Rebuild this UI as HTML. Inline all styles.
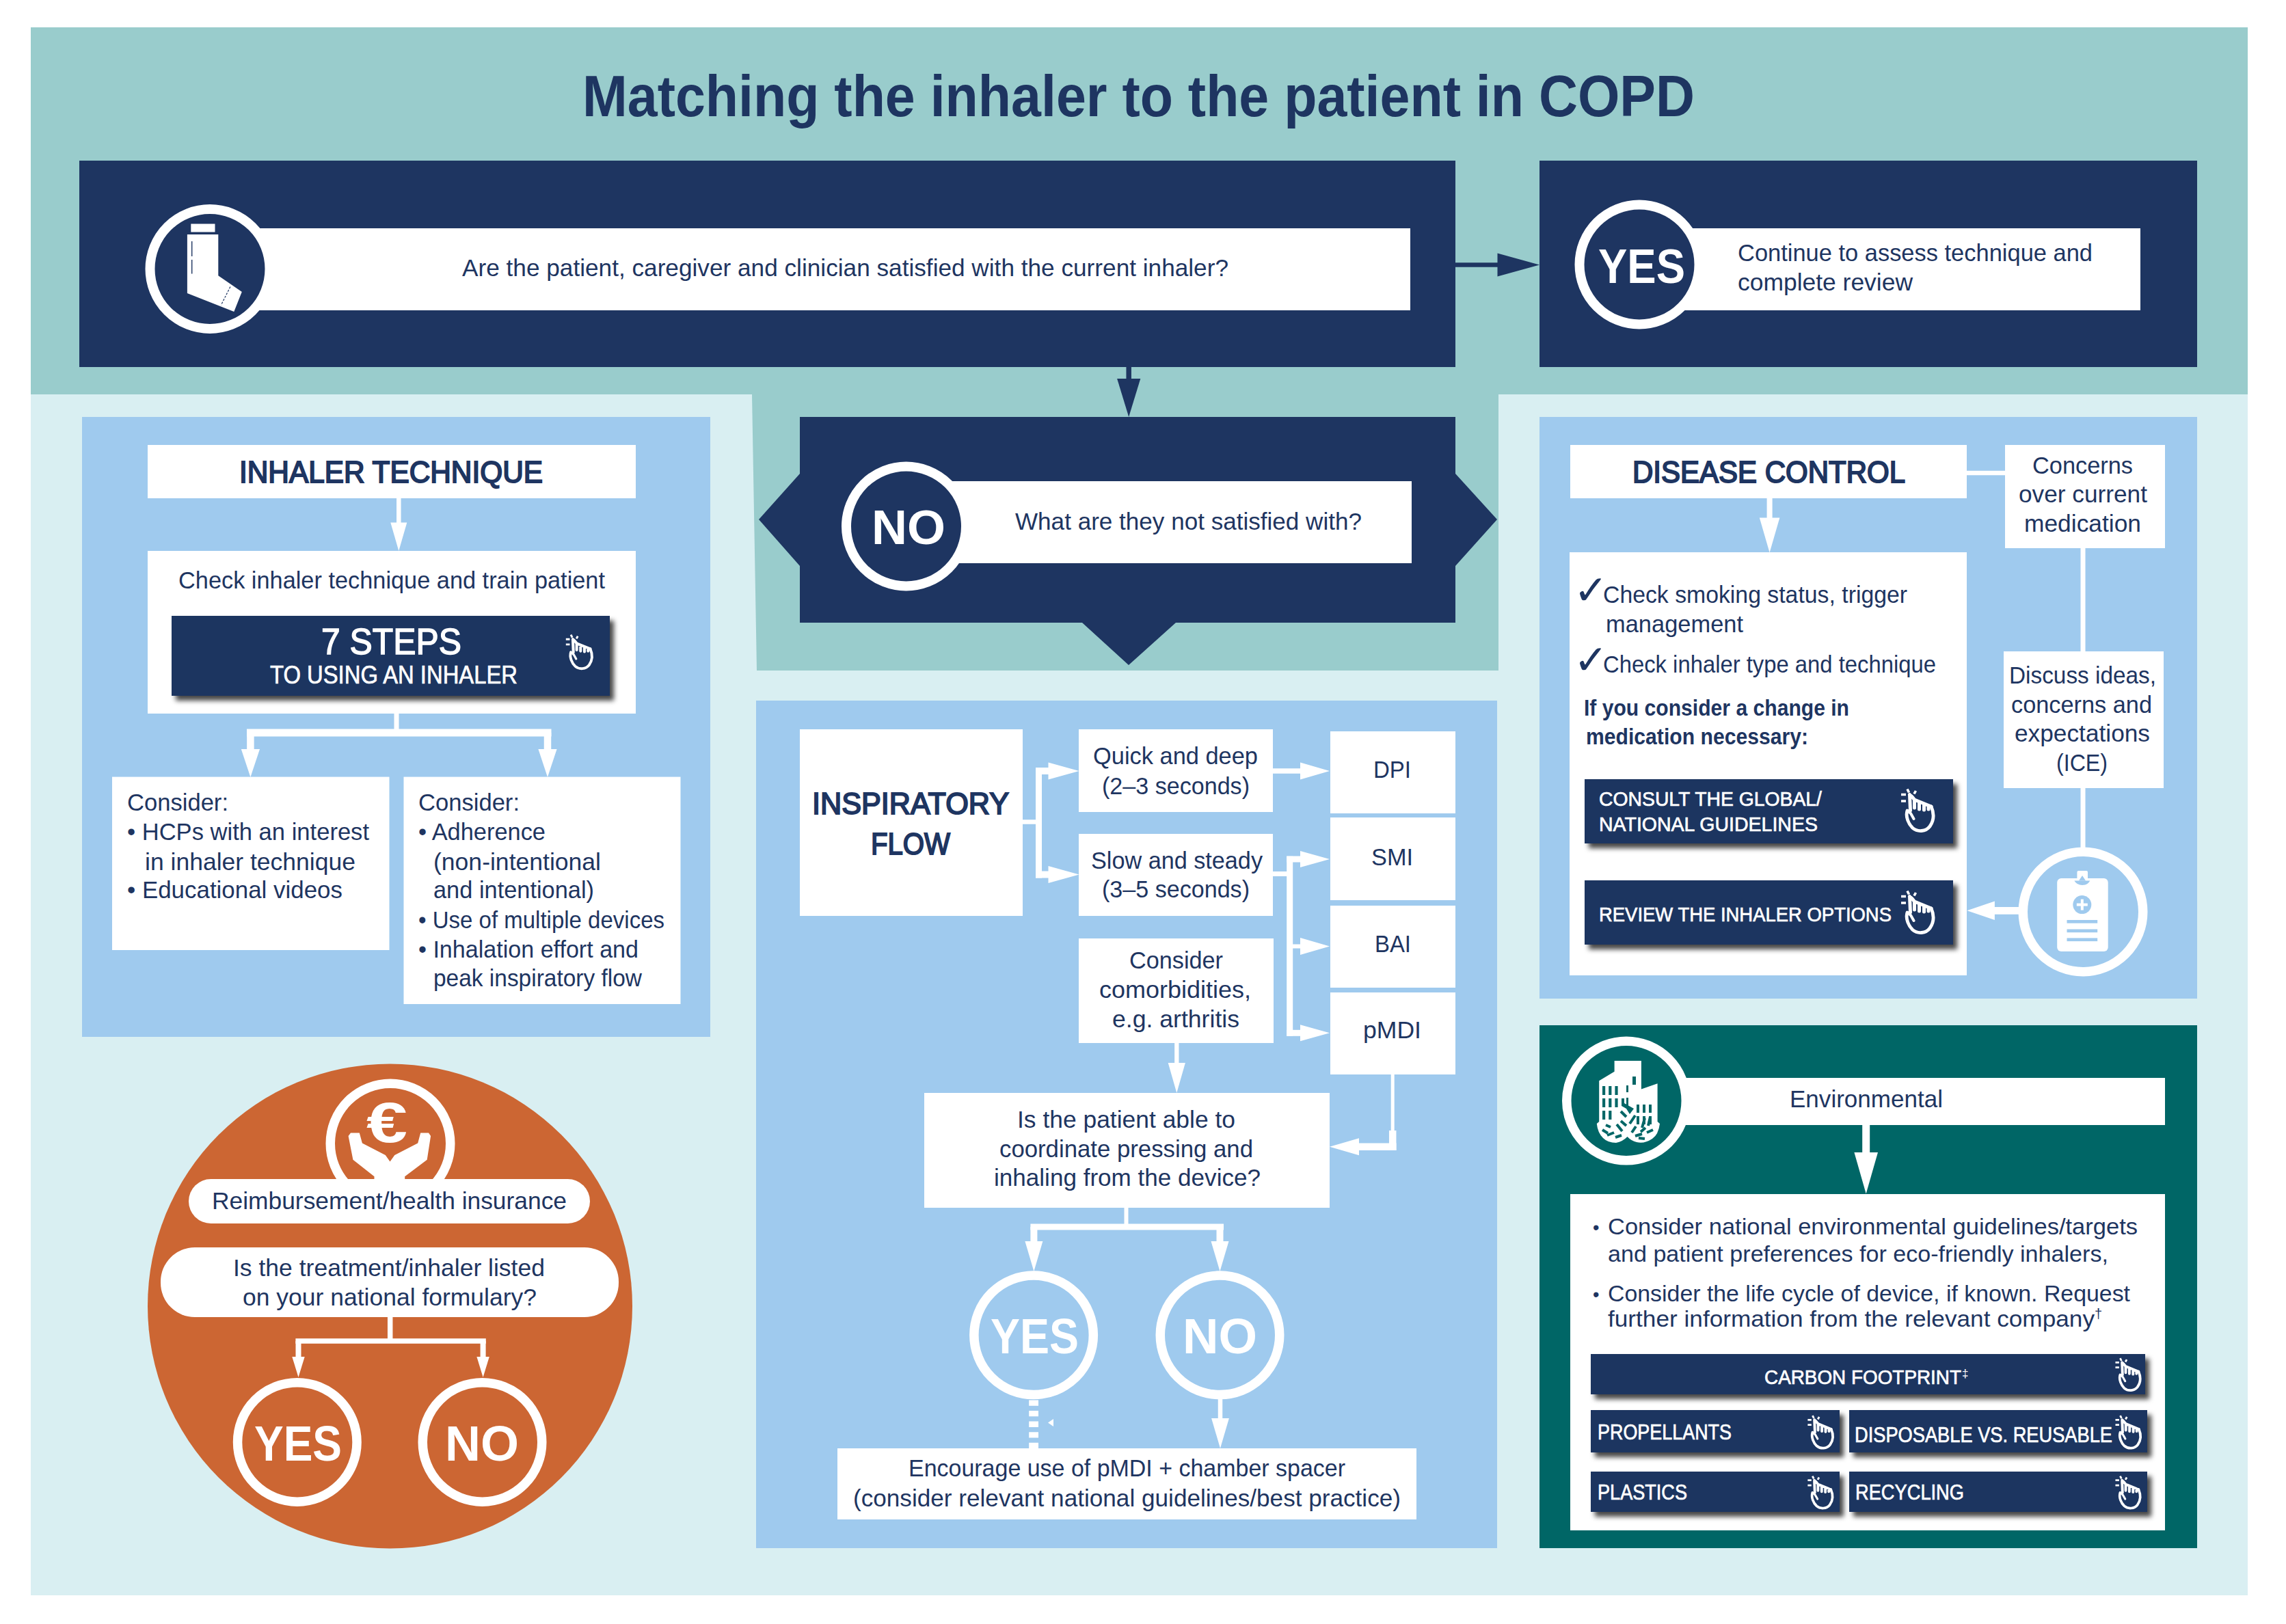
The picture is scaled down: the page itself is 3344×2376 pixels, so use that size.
<!DOCTYPE html>
<html lang="en">
<head>
<meta charset="utf-8">
<title>Matching the inhaler to the patient in COPD</title>
<style>
html,body{margin:0;padding:0;background:#fff;}
body{width:3344px;height:2376px;overflow:hidden;}
svg{display:block;}
svg text{font-family:"Liberation Sans",sans-serif;white-space:pre;}
</style>
</head>
<body>
<svg width="3344" height="2376" viewBox="0 0 3344 2376">
<defs>
<filter id="sh" x="-5%" y="-20%" width="112%" height="150%">
<feDropShadow dx="6" dy="7" stdDeviation="3.5" flood-color="#000" flood-opacity="0.72"/>
</filter>
</defs>
<rect x="0" y="0" width="3344" height="2376" fill="#ffffff"/>
<rect x="45" y="40" width="3243" height="2294" fill="#d9eff2"/>
<rect x="45" y="40" width="3243" height="537" fill="#99cccc"/>
<polygon points="1100,577 2192,577 2192,981 1107,981" fill="#99cccc"/>
<text x="852" y="170" font-size="85" fill="#1e3561" font-weight="bold" textLength="1627" lengthAdjust="spacingAndGlyphs">Matching the inhaler to the patient in COPD</text>
<rect x="116" y="235" width="2013" height="302" fill="#1e3561"/>
<rect x="307" y="334" width="1756" height="120" fill="#ffffff"/>
<circle cx="307" cy="393.5" r="87.5" fill="#1e3561" stroke="#ffffff" stroke-width="14"/>
<polygon points="279.3,327.4 314.5,327.4 314.5,339.6 279.3,339.6" fill="#ffffff"/>
<polygon points="273.9,343 319.3,343 319.3,403.3 353.8,427 342.3,456 273.9,429" fill="#ffffff"/>
<line x1="280.7" y1="353" x2="280.7" y2="400.5" stroke="#1e3561" stroke-width="1.4" stroke-dasharray="22 5"/>
<line x1="336.9" y1="419.5" x2="323.3" y2="446.6" stroke="#1e3561" stroke-width="1.2" stroke-dasharray="3 2"/>
<text x="676" y="404" font-size="35" fill="#1e3561" font-weight="normal" textLength="1121" lengthAdjust="spacingAndGlyphs">Are the patient, caregiver and clinician satisfied with the current inhaler?</text>
<line x1="2129" y1="387.5" x2="2192.5" y2="387.5" stroke="#1e3561" stroke-width="6.5" />
<polygon points="2190.5,370.5 2190.5,404.5 2252,387.5" fill="#1e3561"/>
<line x1="1651.2" y1="537" x2="1651.2" y2="556" stroke="#1e3561" stroke-width="7.5" />
<polygon points="1634.1000000000001,554 1668.3,554 1651.2,610" fill="#1e3561"/>
<rect x="2252" y="235" width="962" height="302" fill="#1e3561"/>
<rect x="2398" y="334" width="733" height="120" fill="#ffffff"/>
<circle cx="2398" cy="387" r="87.5" fill="#1e3561" stroke="#ffffff" stroke-width="14"/>
<text x="2338" y="413.5" font-size="71" fill="#ffffff" font-weight="bold" textLength="127" lengthAdjust="spacingAndGlyphs">YES</text>
<text x="2542" y="382" font-size="35" fill="#1e3561" font-weight="normal" textLength="519" lengthAdjust="spacingAndGlyphs">Continue to assess technique and</text>
<text x="2542" y="425" font-size="35" fill="#1e3561" font-weight="normal" textLength="256" lengthAdjust="spacingAndGlyphs">complete review</text>
<polygon points="1170,610 2129,610 2129,693 2190,760 2129,828 2129,911 1720,911 1651,973 1583,911 1170,911 1170,828 1110,760 1170,693" fill="#1e3561"/>
<rect x="1325" y="704" width="740" height="120" fill="#ffffff"/>
<circle cx="1325.5" cy="770" r="87.5" fill="#1e3561" stroke="#ffffff" stroke-width="14"/>
<text x="1275" y="796" font-size="71" fill="#ffffff" font-weight="bold" textLength="108" lengthAdjust="spacingAndGlyphs">NO</text>
<text x="1485" y="775" font-size="35" fill="#1e3561" font-weight="normal" textLength="507" lengthAdjust="spacingAndGlyphs">What are they not satisfied with?</text>
<rect x="120" y="610" width="919" height="907" fill="#9fcaee"/>
<rect x="216" y="651" width="714" height="78" fill="#ffffff"/>
<text x="350" y="706" font-size="44.5" fill="#1e3561" font-weight="normal" stroke="#1e3561" stroke-width="2.0" textLength="444" lengthAdjust="spacingAndGlyphs">INHALER TECHNIQUE</text>
<line x1="583.3" y1="729" x2="583.3" y2="766.5" stroke="#ffffff" stroke-width="6.5" />
<polygon points="571.3,764.5 595.3,764.5 583.3,806" fill="#ffffff"/>
<rect x="216" y="806" width="714" height="238" fill="#ffffff"/>
<text x="261" y="861" font-size="35" fill="#1e3561" font-weight="normal" textLength="624" lengthAdjust="spacingAndGlyphs">Check inhaler technique and train patient</text>
<rect x="251" y="901" width="641" height="117" fill="#1e3561" filter="url(#sh)"/>
<text x="470" y="957" font-size="54" fill="#ffffff" font-weight="normal" stroke="#ffffff" stroke-width="1.5" textLength="205" lengthAdjust="spacingAndGlyphs">7 STEPS</text>
<text x="395" y="1000" font-size="36" fill="#ffffff" font-weight="normal" stroke="#ffffff" stroke-width="0.7" textLength="362" lengthAdjust="spacingAndGlyphs">TO USING AN INHALER</text>
<g transform="translate(827,927.5) scale(0.81)" fill="none" stroke="#fff" stroke-width="4.8" stroke-linecap="round" stroke-linejoin="round">
<path d="M10 33 C7 42 12 53 18 58.5 C25 64.5 37 64 43 56 C50 46 49 36 45 27"/>
<path d="M10 33 L15 37 L19.5 45" stroke-width="4"/>
<path d="M14.5 33 L13.5 9.5 M13.5 9.5 Q17 12 20.5 17 L45 27 M20.5 29 L20.5 17 M27.5 31 L27.5 20 M34.5 32 L34.5 23 M41 31 L41 25.5" stroke-width="5"/>
<path d="M1 9.5 L8 9.5 M1 19 L8 19 M10 1.5 L12.5 6.5 M22.5 4 L20 8.5" stroke-width="3.6" stroke-linecap="butt"/>
</g>
<line x1="580" y1="1044" x2="580" y2="1075" stroke="#ffffff" stroke-width="7" />
<line x1="361" y1="1072" x2="806.5" y2="1072" stroke="#ffffff" stroke-width="11" />
<line x1="366.4" y1="1072" x2="366.4" y2="1098" stroke="#ffffff" stroke-width="10.5" />
<polygon points="352.79999999999995,1096 380.0,1096 366.4,1137" fill="#ffffff"/>
<line x1="801" y1="1072" x2="801" y2="1098" stroke="#ffffff" stroke-width="10.5" />
<polygon points="787.4,1096 814.6,1096 801,1137" fill="#ffffff"/>
<rect x="164" y="1136.6" width="405.5" height="253.4000000000001" fill="#ffffff"/>
<rect x="590.5" y="1136.6" width="405.0" height="332.4000000000001" fill="#ffffff"/>
<text x="186" y="1186" font-size="35" fill="#1e3561" font-weight="normal" textLength="148" lengthAdjust="spacingAndGlyphs">Consider:</text>
<text x="186" y="1229" font-size="35" fill="#1e3561" font-weight="normal" textLength="354" lengthAdjust="spacingAndGlyphs">• HCPs with an interest</text>
<text x="212" y="1273" font-size="35" fill="#1e3561" font-weight="normal" textLength="308" lengthAdjust="spacingAndGlyphs">in inhaler technique</text>
<text x="186" y="1314" font-size="35" fill="#1e3561" font-weight="normal" textLength="315" lengthAdjust="spacingAndGlyphs">• Educational videos</text>
<text x="612" y="1186" font-size="35" fill="#1e3561" font-weight="normal" textLength="148" lengthAdjust="spacingAndGlyphs">Consider:</text>
<text x="612" y="1229" font-size="35" fill="#1e3561" font-weight="normal" textLength="186" lengthAdjust="spacingAndGlyphs">• Adherence</text>
<text x="634" y="1273" font-size="35" fill="#1e3561" font-weight="normal" textLength="245" lengthAdjust="spacingAndGlyphs">(non-intentional</text>
<text x="634" y="1314" font-size="35" fill="#1e3561" font-weight="normal" textLength="235" lengthAdjust="spacingAndGlyphs">and intentional)</text>
<text x="612" y="1358" font-size="35" fill="#1e3561" font-weight="normal" textLength="360" lengthAdjust="spacingAndGlyphs">• Use of multiple devices</text>
<text x="612" y="1401" font-size="35" fill="#1e3561" font-weight="normal" textLength="322" lengthAdjust="spacingAndGlyphs">• Inhalation effort and</text>
<text x="634" y="1443" font-size="35" fill="#1e3561" font-weight="normal" textLength="305" lengthAdjust="spacingAndGlyphs">peak inspiratory flow</text>
<circle cx="570.5" cy="1911" r="354.5" fill="#cc6633"/>
<circle cx="571" cy="1673" r="87.75" fill="#cc6633" stroke="#ffffff" stroke-width="13.5"/>
<polygon points="509.6,1662 513,1657.5 525.8,1657.5 529.9,1672.4 563.8,1690 570.5,1699.5 577.3,1690 611.2,1672.4 615.2,1657.5 627,1657.5 630.1,1662 624.7,1696.8 592.2,1721.2 592.2,1728 547.5,1728 547.5,1721.2 516.4,1696.8" fill="#ffffff"/>
<text x="536" y="1671" font-size="84" fill="#ffffff" font-weight="bold" textLength="60" lengthAdjust="spacingAndGlyphs">€</text>
<rect x="276" y="1725" width="587" height="65" fill="#ffffff" rx="32.5"/>
<text x="310" y="1769" font-size="35" fill="#1e3561" font-weight="normal" textLength="519" lengthAdjust="spacingAndGlyphs">Reimbursement/health insurance</text>
<rect x="235" y="1825" width="670" height="102" fill="#ffffff" rx="50"/>
<text x="341" y="1867" font-size="35" fill="#1e3561" font-weight="normal" textLength="456" lengthAdjust="spacingAndGlyphs">Is the treatment/inhaler listed</text>
<text x="355" y="1910" font-size="35" fill="#1e3561" font-weight="normal" textLength="430" lengthAdjust="spacingAndGlyphs">on your national formulary?</text>
<line x1="570.7" y1="1927" x2="570.7" y2="1964" stroke="#ffffff" stroke-width="7.5" />
<line x1="432.4" y1="1962" x2="710.8" y2="1962" stroke="#ffffff" stroke-width="7.5" />
<line x1="436.5" y1="1962" x2="436.5" y2="1987" stroke="#ffffff" stroke-width="8" />
<polygon points="427.3,1985 445.7,1985 436.5,2015" fill="#ffffff"/>
<line x1="706.6" y1="1962" x2="706.6" y2="1987" stroke="#ffffff" stroke-width="8" />
<polygon points="697.4,1985 715.8000000000001,1985 706.6,2015" fill="#ffffff"/>
<circle cx="434.8" cy="2109.9" r="87.25" fill="#cc6633" stroke="#ffffff" stroke-width="13.5"/>
<circle cx="705.5" cy="2109.9" r="87.25" fill="#cc6633" stroke="#ffffff" stroke-width="13.5"/>
<text x="372" y="2136.5" font-size="72" fill="#ffffff" font-weight="bold" textLength="128" lengthAdjust="spacingAndGlyphs">YES</text>
<text x="651" y="2136.5" font-size="72" fill="#ffffff" font-weight="bold" textLength="108" lengthAdjust="spacingAndGlyphs">NO</text>
<rect x="1106" y="1025" width="1084" height="1240" fill="#9fcaee"/>
<rect x="1170" y="1067" width="326" height="273" fill="#ffffff"/>
<text x="1188" y="1191" font-size="44.5" fill="#1e3561" font-weight="normal" stroke="#1e3561" stroke-width="2.0" textLength="288" lengthAdjust="spacingAndGlyphs">INSPIRATORY</text>
<text x="1274" y="1250" font-size="44.5" fill="#1e3561" font-weight="normal" stroke="#1e3561" stroke-width="2.0" textLength="116" lengthAdjust="spacingAndGlyphs">FLOW</text>
<rect x="1578" y="1067" width="284" height="121" fill="#ffffff"/>
<rect x="1578" y="1220" width="284" height="120" fill="#ffffff"/>
<rect x="1578" y="1373" width="285" height="153" fill="#ffffff"/>
<rect x="1946" y="1070" width="183" height="120" fill="#ffffff"/>
<rect x="1946" y="1196" width="183" height="121" fill="#ffffff"/>
<rect x="1946" y="1325" width="183" height="120" fill="#ffffff"/>
<rect x="1946" y="1452" width="183" height="120" fill="#ffffff"/>
<text x="1599" y="1118" font-size="35" fill="#1e3561" font-weight="normal" textLength="241" lengthAdjust="spacingAndGlyphs">Quick and deep</text>
<text x="1612" y="1162" font-size="35" fill="#1e3561" font-weight="normal" textLength="216" lengthAdjust="spacingAndGlyphs">(2–3 seconds)</text>
<text x="1596" y="1271" font-size="35" fill="#1e3561" font-weight="normal" textLength="251" lengthAdjust="spacingAndGlyphs">Slow and steady</text>
<text x="1612" y="1313" font-size="35" fill="#1e3561" font-weight="normal" textLength="216" lengthAdjust="spacingAndGlyphs">(3–5 seconds)</text>
<text x="1652" y="1417" font-size="35" fill="#1e3561" font-weight="normal" textLength="137" lengthAdjust="spacingAndGlyphs">Consider</text>
<text x="1608" y="1460" font-size="35" fill="#1e3561" font-weight="normal" textLength="222" lengthAdjust="spacingAndGlyphs">comorbidities,</text>
<text x="1627" y="1503" font-size="35" fill="#1e3561" font-weight="normal" textLength="186" lengthAdjust="spacingAndGlyphs">e.g. arthritis</text>
<text x="2009" y="1138" font-size="35" fill="#1e3561" font-weight="normal" textLength="55" lengthAdjust="spacingAndGlyphs">DPI</text>
<text x="2006" y="1266" font-size="35" fill="#1e3561" font-weight="normal" textLength="61" lengthAdjust="spacingAndGlyphs">SMI</text>
<text x="2011" y="1393" font-size="35" fill="#1e3561" font-weight="normal" textLength="53" lengthAdjust="spacingAndGlyphs">BAI</text>
<text x="1994" y="1519" font-size="35" fill="#1e3561" font-weight="normal" textLength="85" lengthAdjust="spacingAndGlyphs">pMDI</text>
<line x1="1495" y1="1202.5" x2="1520" y2="1202.5" stroke="#ffffff" stroke-width="6.5" />
<line x1="1519.5" y1="1123" x2="1519.5" y2="1284.5" stroke="#ffffff" stroke-width="9" />
<line x1="1515" y1="1128" x2="1535.5" y2="1128" stroke="#ffffff" stroke-width="10" />
<polygon points="1533.5,1115.5 1533.5,1140.5 1578.5,1128" fill="#ffffff"/>
<line x1="1515" y1="1279.5" x2="1535.5" y2="1279.5" stroke="#ffffff" stroke-width="10" />
<polygon points="1533.5,1267.0 1533.5,1292.0 1578.5,1279.5" fill="#ffffff"/>
<line x1="1862" y1="1128" x2="1904" y2="1128" stroke="#ffffff" stroke-width="7.5" />
<polygon points="1902,1115.5 1902,1140.5 1945,1128" fill="#ffffff"/>
<line x1="1862" y1="1278.5" x2="1887" y2="1278.5" stroke="#ffffff" stroke-width="7" />
<line x1="1886.7" y1="1252.8" x2="1886.7" y2="1515.7" stroke="#ffffff" stroke-width="9" />
<line x1="1882.2" y1="1257" x2="1904" y2="1257" stroke="#ffffff" stroke-width="9" />
<polygon points="1902,1245 1902,1269 1945,1257" fill="#ffffff"/>
<line x1="1886" y1="1384.5" x2="1904" y2="1384.5" stroke="#ffffff" stroke-width="6" />
<polygon points="1902,1372.0 1902,1397.0 1945,1384.5" fill="#ffffff"/>
<line x1="1882.2" y1="1511.3" x2="1904" y2="1511.3" stroke="#ffffff" stroke-width="9" />
<polygon points="1902,1499.3 1902,1523.3 1945,1511.3" fill="#ffffff"/>
<line x1="1721.3" y1="1526" x2="1721.3" y2="1557" stroke="#ffffff" stroke-width="6.3" />
<polygon points="1708.7,1555 1733.8999999999999,1555 1721.3,1599" fill="#ffffff"/>
<line x1="2037.2" y1="1572" x2="2037.2" y2="1658" stroke="#ffffff" stroke-width="5" />
<line x1="2037.2" y1="1654" x2="2037.2" y2="1683" stroke="#ffffff" stroke-width="10.5" />
<line x1="2042.5" y1="1677.8" x2="1986" y2="1677.8" stroke="#ffffff" stroke-width="10.5" />
<polygon points="1988,1665.3 1988,1690.3 1945,1677.8" fill="#ffffff"/>
<rect x="1352" y="1599" width="593" height="168" fill="#ffffff"/>
<text x="1488" y="1650" font-size="35" fill="#1e3561" font-weight="normal" textLength="319" lengthAdjust="spacingAndGlyphs">Is the patient able to</text>
<text x="1462" y="1693" font-size="35" fill="#1e3561" font-weight="normal" textLength="371" lengthAdjust="spacingAndGlyphs">coordinate pressing and</text>
<text x="1454" y="1735" font-size="35" fill="#1e3561" font-weight="normal" textLength="390" lengthAdjust="spacingAndGlyphs">inhaling from the device?</text>
<line x1="1647.5" y1="1767" x2="1647.5" y2="1798" stroke="#ffffff" stroke-width="6" />
<line x1="1507.4" y1="1795" x2="1790" y2="1795" stroke="#ffffff" stroke-width="9" />
<line x1="1512.4" y1="1795" x2="1512.4" y2="1818" stroke="#ffffff" stroke-width="10" />
<polygon points="1499.4,1816 1525.4,1816 1512.4,1860" fill="#ffffff"/>
<line x1="1784.5" y1="1795" x2="1784.5" y2="1818" stroke="#ffffff" stroke-width="10" />
<polygon points="1771.5,1816 1797.5,1816 1784.5,1860" fill="#ffffff"/>
<circle cx="1512.1" cy="1953.3" r="87.25" fill="#9fcaee" stroke="#ffffff" stroke-width="13.5"/>
<circle cx="1784.5" cy="1953.3" r="87.25" fill="#9fcaee" stroke="#ffffff" stroke-width="13.5"/>
<text x="1449" y="1980" font-size="73" fill="#ffffff" font-weight="bold" textLength="129" lengthAdjust="spacingAndGlyphs">YES</text>
<text x="1730" y="1980" font-size="73" fill="#ffffff" font-weight="bold" textLength="109" lengthAdjust="spacingAndGlyphs">NO</text>
<line x1="1512.1" y1="2048.4" x2="1512.1" y2="2119" stroke="#ffffff" stroke-width="13.8" stroke-dasharray="8.3 7.3"/>
<polygon points="1533,2081.5 1541,2076 1541,2087" fill="#ffffff"/>
<line x1="1785" y1="2047" x2="1785" y2="2077" stroke="#ffffff" stroke-width="6.5" />
<polygon points="1772.1,2075 1797.9,2075 1785,2119" fill="#ffffff"/>
<rect x="1225" y="2119" width="847" height="104" fill="#ffffff"/>
<text x="1329" y="2160" font-size="35" fill="#1e3561" font-weight="normal" textLength="639" lengthAdjust="spacingAndGlyphs">Encourage use of pMDI + chamber spacer</text>
<text x="1248" y="2204" font-size="35" fill="#1e3561" font-weight="normal" textLength="801" lengthAdjust="spacingAndGlyphs">(consider relevant national guidelines/best practice)</text>
<rect x="2252" y="610" width="962" height="851" fill="#9fcaee"/>
<rect x="2297" y="651" width="580" height="78" fill="#ffffff"/>
<text x="2388" y="706" font-size="44.5" fill="#1e3561" font-weight="normal" stroke="#1e3561" stroke-width="2.0" textLength="399" lengthAdjust="spacingAndGlyphs">DISEASE CONTROL</text>
<line x1="2877" y1="692" x2="2934" y2="692" stroke="#ffffff" stroke-width="6.5" />
<rect x="2933" y="651" width="234" height="151" fill="#ffffff"/>
<text x="2973" y="693" font-size="35" fill="#1e3561" font-weight="normal" textLength="147" lengthAdjust="spacingAndGlyphs">Concerns</text>
<text x="2953" y="735" font-size="35" fill="#1e3561" font-weight="normal" textLength="188" lengthAdjust="spacingAndGlyphs">over current</text>
<text x="2961" y="778" font-size="35" fill="#1e3561" font-weight="normal" textLength="171" lengthAdjust="spacingAndGlyphs">medication</text>
<line x1="2588.6" y1="729" x2="2588.6" y2="759.4" stroke="#ffffff" stroke-width="8" />
<polygon points="2573.7999999999997,757.4 2603.4,757.4 2588.6,808.4" fill="#ffffff"/>
<rect x="2296" y="808" width="581" height="619" fill="#ffffff"/>
<line x1="3047" y1="802" x2="3047" y2="953" stroke="#ffffff" stroke-width="7" />
<rect x="2931" y="953" width="234" height="200" fill="#ffffff"/>
<line x1="3047" y1="1153" x2="3047" y2="1242" stroke="#ffffff" stroke-width="7" />
<text x="2939" y="1000" font-size="35" fill="#1e3561" font-weight="normal" textLength="215" lengthAdjust="spacingAndGlyphs">Discuss ideas,</text>
<text x="2942" y="1043" font-size="35" fill="#1e3561" font-weight="normal" textLength="206" lengthAdjust="spacingAndGlyphs">concerns and</text>
<text x="2947" y="1085" font-size="35" fill="#1e3561" font-weight="normal" textLength="198" lengthAdjust="spacingAndGlyphs">expectations</text>
<text x="3008" y="1128" font-size="35" fill="#1e3561" font-weight="normal" textLength="75" lengthAdjust="spacingAndGlyphs">(ICE)</text>
<circle cx="3047" cy="1334" r="87.75" fill="#9fcaee" stroke="#ffffff" stroke-width="13.5"/>
<rect x="3038.4" y="1274" width="15.599999999999909" height="16" fill="#ffffff" rx="2"/>
<rect x="3009.2" y="1285" width="74.5" height="107" fill="#ffffff" rx="6"/>
<path d="M3034.3 1288.5 L3057.3 1288.5 Q3054 1295 3046 1295 Q3038 1295 3034.3 1288.5 Z" fill="#9fcaee"/>
<path d="M3041 1288.5 L3046 1281 L3051 1288.5 Z" fill="#9fcaee"/>
<circle cx="3045.8" cy="1323.6" r="13.5" fill="#9fcaee"/>
<rect x="3043.8" y="1315.6" width="4.0" height="16.0" fill="#ffffff"/>
<rect x="3037.8" y="1321.6" width="16.0" height="4.0" fill="#ffffff"/>
<rect x="3023.5" y="1346" width="44.69999999999982" height="4.7000000000000455" fill="#9fcaee"/>
<rect x="3023.5" y="1359.5" width="44.69999999999982" height="4.7000000000000455" fill="#9fcaee"/>
<rect x="3023.5" y="1372.4" width="44.69999999999982" height="4.699999999999818" fill="#9fcaee"/>
<line x1="2956" y1="1332.3" x2="2915.9" y2="1332.3" stroke="#ffffff" stroke-width="10.8" />
<polygon points="2917.9,1318.6 2917.9,1346.0 2877.4,1332.3" fill="#ffffff"/>
<text x="2301.5" y="884" font-size="60" fill="#1e3561" font-weight="normal" font-family="DejaVu Sans">✓</text>
<text x="2345" y="882" font-size="35" fill="#1e3561" font-weight="normal" textLength="445" lengthAdjust="spacingAndGlyphs">Check smoking status, trigger</text>
<text x="2349" y="925" font-size="35" fill="#1e3561" font-weight="normal" textLength="201" lengthAdjust="spacingAndGlyphs">management</text>
<text x="2301.5" y="986" font-size="60" fill="#1e3561" font-weight="normal" font-family="DejaVu Sans">✓</text>
<text x="2345" y="984" font-size="35" fill="#1e3561" font-weight="normal" textLength="487" lengthAdjust="spacingAndGlyphs">Check inhaler type and technique</text>
<text x="2317" y="1047" font-size="33.5" fill="#1e3561" font-weight="bold" textLength="388" lengthAdjust="spacingAndGlyphs">If you consider a change in</text>
<text x="2320" y="1089" font-size="33.5" fill="#1e3561" font-weight="bold" textLength="325" lengthAdjust="spacingAndGlyphs">medication necessary:</text>
<rect x="2318" y="1140" width="539" height="94" fill="#1e3561" filter="url(#sh)"/>
<text x="2339" y="1179" font-size="30" fill="#ffffff" font-weight="normal" stroke="#ffffff" stroke-width="0.7" textLength="326" lengthAdjust="spacingAndGlyphs">CONSULT THE GLOBAL/</text>
<text x="2339" y="1216" font-size="30" fill="#ffffff" font-weight="normal" stroke="#ffffff" stroke-width="0.7" textLength="320" lengthAdjust="spacingAndGlyphs">NATIONAL GUIDELINES</text>
<g transform="translate(2780,1153) scale(1.0)" fill="none" stroke="#fff" stroke-width="4.8" stroke-linecap="round" stroke-linejoin="round">
<path d="M10 33 C7 42 12 53 18 58.5 C25 64.5 37 64 43 56 C50 46 49 36 45 27"/>
<path d="M10 33 L15 37 L19.5 45" stroke-width="4"/>
<path d="M14.5 33 L13.5 9.5 M13.5 9.5 Q17 12 20.5 17 L45 27 M20.5 29 L20.5 17 M27.5 31 L27.5 20 M34.5 32 L34.5 23 M41 31 L41 25.5" stroke-width="5"/>
<path d="M1 9.5 L8 9.5 M1 19 L8 19 M10 1.5 L12.5 6.5 M22.5 4 L20 8.5" stroke-width="3.6" stroke-linecap="butt"/>
</g>
<rect x="2318" y="1288" width="539" height="94" fill="#1e3561" filter="url(#sh)"/>
<text x="2339" y="1348" font-size="30" fill="#ffffff" font-weight="normal" stroke="#ffffff" stroke-width="0.7" textLength="428" lengthAdjust="spacingAndGlyphs">REVIEW THE INHALER OPTIONS</text>
<g transform="translate(2780,1302) scale(1.0)" fill="none" stroke="#fff" stroke-width="4.8" stroke-linecap="round" stroke-linejoin="round">
<path d="M10 33 C7 42 12 53 18 58.5 C25 64.5 37 64 43 56 C50 46 49 36 45 27"/>
<path d="M10 33 L15 37 L19.5 45" stroke-width="4"/>
<path d="M14.5 33 L13.5 9.5 M13.5 9.5 Q17 12 20.5 17 L45 27 M20.5 29 L20.5 17 M27.5 31 L27.5 20 M34.5 32 L34.5 23 M41 31 L41 25.5" stroke-width="5"/>
<path d="M1 9.5 L8 9.5 M1 19 L8 19 M10 1.5 L12.5 6.5 M22.5 4 L20 8.5" stroke-width="3.6" stroke-linecap="butt"/>
</g>
<rect x="2252" y="1500" width="962" height="765" fill="#006666"/>
<rect x="2379" y="1577" width="788" height="69" fill="#ffffff"/>
<circle cx="2379" cy="1610.5" r="87.25" fill="#006666" stroke="#ffffff" stroke-width="13.5"/>
<g>
<path d="M2339.2 1581.3 L2361.6 1567.7 L2361.6 1552.1 L2400.9 1552.1 L2400.9 1593.5 L2424.6 1585.3 L2424.6 1641 L2428 1644 Q2426 1660 2417 1666 Q2405 1674 2394 1671 Q2386 1669 2380.5 1663 Q2374 1670 2364 1672 Q2352 1672 2345 1665 Q2337 1657 2335.8 1644 L2339.2 1641 Z" fill="#fff"/>
<rect x="2344.0" y="1589.0" width="4.2" height="13" fill="#006666"/>
<rect x="2353.2" y="1589.0" width="4.2" height="13" fill="#006666"/>
<rect x="2362.4" y="1589.0" width="4.2" height="13" fill="#006666"/>
<rect x="2344.0" y="1607.0" width="4.2" height="13" fill="#006666"/>
<rect x="2353.2" y="1607.0" width="4.2" height="13" fill="#006666"/>
<rect x="2362.4" y="1607.0" width="4.2" height="13" fill="#006666"/>
<rect x="2344.0" y="1625.0" width="4.2" height="13" fill="#006666"/>
<rect x="2353.2" y="1625.0" width="4.2" height="13" fill="#006666"/>
<rect x="2394.0" y="1616.0" width="4" height="12" fill="#006666"/>
<rect x="2403.0" y="1616.0" width="4" height="12" fill="#006666"/>
<rect x="2412.0" y="1616.0" width="4" height="12" fill="#006666"/>
<rect x="2394.0" y="1633.0" width="4" height="12" fill="#006666"/>
<rect x="2403.0" y="1633.0" width="4" height="12" fill="#006666"/>
<rect x="2412.0" y="1633.0" width="4" height="12" fill="#006666"/>
<rect x="2388" y="1575" width="5" height="12" fill="#006666"/>
<rect x="2379" y="1588" width="3" height="10" fill="#006666"/>
<rect x="2379" y="1606" width="3" height="12" fill="#006666"/>
<polygon points="2372,1607 2376,1607 2376,1614 2390,1622 2384,1630 2379,1622 2372,1618" fill="#006666"/>
<line x1="2371" y1="1626" x2="2379" y2="1634" stroke="#006666" stroke-width="4" stroke-linecap="butt"/>
<line x1="2371" y1="1640" x2="2379" y2="1647" stroke="#006666" stroke-width="4" stroke-linecap="butt"/>
<line x1="2392" y1="1632" x2="2384" y2="1644" stroke="#006666" stroke-width="4" stroke-linecap="butt"/>
<line x1="2365" y1="1645" x2="2373" y2="1655" stroke="#006666" stroke-width="4" stroke-linecap="butt"/>
<line x1="2393" y1="1648" x2="2387" y2="1657" stroke="#006666" stroke-width="4" stroke-linecap="butt"/>
<line x1="2349" y1="1646" x2="2356" y2="1649" stroke="#006666" stroke-width="4" stroke-linecap="butt"/>
<line x1="2344" y1="1653" x2="2352" y2="1658" stroke="#006666" stroke-width="4" stroke-linecap="butt"/>
<line x1="2351" y1="1661" x2="2361" y2="1657" stroke="#006666" stroke-width="4" stroke-linecap="butt"/>
<line x1="2363" y1="1664" x2="2372" y2="1661" stroke="#006666" stroke-width="4" stroke-linecap="butt"/>
<line x1="2402" y1="1650" x2="2406" y2="1636" stroke="#006666" stroke-width="4" stroke-linecap="butt"/>
<line x1="2411" y1="1647" x2="2414" y2="1634" stroke="#006666" stroke-width="4" stroke-linecap="butt"/>
<line x1="2400" y1="1656" x2="2407" y2="1650" stroke="#006666" stroke-width="4" stroke-linecap="butt"/>
<line x1="2409" y1="1657" x2="2418" y2="1653" stroke="#006666" stroke-width="4" stroke-linecap="butt"/>
<line x1="2392" y1="1662" x2="2402" y2="1659" stroke="#006666" stroke-width="4" stroke-linecap="butt"/>
<line x1="2397" y1="1665" x2="2406" y2="1666" stroke="#006666" stroke-width="4" stroke-linecap="butt"/>
</g>
<text x="2618" y="1620" font-size="35" fill="#1e3561" font-weight="normal" textLength="224" lengthAdjust="spacingAndGlyphs">Environmental</text>
<line x1="2729.7" y1="1646" x2="2729.7" y2="1688.0" stroke="#ffffff" stroke-width="11" />
<polygon points="2712.3999999999996,1686.0 2747.0,1686.0 2729.7,1746.5" fill="#ffffff"/>
<rect x="2297" y="1747" width="870" height="492" fill="#ffffff"/>
<text x="2330" y="1805" font-size="27" fill="#1e3561" font-weight="normal">•</text>
<text x="2352" y="1806" font-size="34" fill="#1e3561" font-weight="normal" textLength="775" lengthAdjust="spacingAndGlyphs">Consider national environmental guidelines/targets</text>
<text x="2352" y="1846" font-size="34" fill="#1e3561" font-weight="normal" textLength="732" lengthAdjust="spacingAndGlyphs">and patient preferences for eco-friendly inhalers,</text>
<text x="2330" y="1903" font-size="27" fill="#1e3561" font-weight="normal">•</text>
<text x="2352" y="1904" font-size="34" fill="#1e3561" font-weight="normal" textLength="764" lengthAdjust="spacingAndGlyphs">Consider the life cycle of device, if known. Request</text>
<text x="2352" y="1941" font-size="34" fill="#1e3561" font-weight="normal" textLength="712" lengthAdjust="spacingAndGlyphs">further information from the relevant company</text>
<text x="3064" y="1929" font-size="20" fill="#1e3561" font-weight="normal">†</text>
<rect x="2327" y="1981" width="811" height="59" fill="#1e3561" filter="url(#sh)"/>
<text x="2581" y="2025" font-size="29" fill="#ffffff" font-weight="normal" stroke="#ffffff" stroke-width="0.7" textLength="288" lengthAdjust="spacingAndGlyphs">CARBON FOOTPRINT</text>
<text x="2870" y="2015" font-size="17" fill="#ffffff" font-weight="normal">‡</text>
<g transform="translate(3093.7,1986) scale(0.77)" fill="none" stroke="#fff" stroke-width="4.8" stroke-linecap="round" stroke-linejoin="round">
<path d="M10 33 C7 42 12 53 18 58.5 C25 64.5 37 64 43 56 C50 46 49 36 45 27"/>
<path d="M10 33 L15 37 L19.5 45" stroke-width="4"/>
<path d="M14.5 33 L13.5 9.5 M13.5 9.5 Q17 12 20.5 17 L45 27 M20.5 29 L20.5 17 M27.5 31 L27.5 20 M34.5 32 L34.5 23 M41 31 L41 25.5" stroke-width="5"/>
<path d="M1 9.5 L8 9.5 M1 19 L8 19 M10 1.5 L12.5 6.5 M22.5 4 L20 8.5" stroke-width="3.6" stroke-linecap="butt"/>
</g>
<rect x="2327" y="2063" width="364" height="62" fill="#1e3561" filter="url(#sh)"/>
<text x="2337" y="2106" font-size="31" fill="#ffffff" font-weight="normal" stroke="#ffffff" stroke-width="0.7" textLength="196" lengthAdjust="spacingAndGlyphs">PROPELLANTS</text>
<g transform="translate(2643.6,2069.9) scale(0.78)" fill="none" stroke="#fff" stroke-width="4.8" stroke-linecap="round" stroke-linejoin="round">
<path d="M10 33 C7 42 12 53 18 58.5 C25 64.5 37 64 43 56 C50 46 49 36 45 27"/>
<path d="M10 33 L15 37 L19.5 45" stroke-width="4"/>
<path d="M14.5 33 L13.5 9.5 M13.5 9.5 Q17 12 20.5 17 L45 27 M20.5 29 L20.5 17 M27.5 31 L27.5 20 M34.5 32 L34.5 23 M41 31 L41 25.5" stroke-width="5"/>
<path d="M1 9.5 L8 9.5 M1 19 L8 19 M10 1.5 L12.5 6.5 M22.5 4 L20 8.5" stroke-width="3.6" stroke-linecap="butt"/>
</g>
<rect x="2705" y="2063" width="436" height="62" fill="#1e3561" filter="url(#sh)"/>
<text x="2713" y="2109.5" font-size="31" fill="#ffffff" font-weight="normal" stroke="#ffffff" stroke-width="0.7" textLength="377" lengthAdjust="spacingAndGlyphs">DISPOSABLE VS. REUSABLE</text>
<g transform="translate(3093.7,2069.9) scale(0.78)" fill="none" stroke="#fff" stroke-width="4.8" stroke-linecap="round" stroke-linejoin="round">
<path d="M10 33 C7 42 12 53 18 58.5 C25 64.5 37 64 43 56 C50 46 49 36 45 27"/>
<path d="M10 33 L15 37 L19.5 45" stroke-width="4"/>
<path d="M14.5 33 L13.5 9.5 M13.5 9.5 Q17 12 20.5 17 L45 27 M20.5 29 L20.5 17 M27.5 31 L27.5 20 M34.5 32 L34.5 23 M41 31 L41 25.5" stroke-width="5"/>
<path d="M1 9.5 L8 9.5 M1 19 L8 19 M10 1.5 L12.5 6.5 M22.5 4 L20 8.5" stroke-width="3.6" stroke-linecap="butt"/>
</g>
<rect x="2327" y="2153" width="364" height="59" fill="#1e3561" filter="url(#sh)"/>
<text x="2337" y="2194" font-size="31" fill="#ffffff" font-weight="normal" stroke="#ffffff" stroke-width="0.7" textLength="131" lengthAdjust="spacingAndGlyphs">PLASTICS</text>
<g transform="translate(2643.6,2158.4) scale(0.77)" fill="none" stroke="#fff" stroke-width="4.8" stroke-linecap="round" stroke-linejoin="round">
<path d="M10 33 C7 42 12 53 18 58.5 C25 64.5 37 64 43 56 C50 46 49 36 45 27"/>
<path d="M10 33 L15 37 L19.5 45" stroke-width="4"/>
<path d="M14.5 33 L13.5 9.5 M13.5 9.5 Q17 12 20.5 17 L45 27 M20.5 29 L20.5 17 M27.5 31 L27.5 20 M34.5 32 L34.5 23 M41 31 L41 25.5" stroke-width="5"/>
<path d="M1 9.5 L8 9.5 M1 19 L8 19 M10 1.5 L12.5 6.5 M22.5 4 L20 8.5" stroke-width="3.6" stroke-linecap="butt"/>
</g>
<rect x="2705" y="2153" width="436" height="59" fill="#1e3561" filter="url(#sh)"/>
<text x="2714" y="2194" font-size="31" fill="#ffffff" font-weight="normal" stroke="#ffffff" stroke-width="0.7" textLength="159" lengthAdjust="spacingAndGlyphs">RECYCLING</text>
<g transform="translate(3093.7,2158.4) scale(0.77)" fill="none" stroke="#fff" stroke-width="4.8" stroke-linecap="round" stroke-linejoin="round">
<path d="M10 33 C7 42 12 53 18 58.5 C25 64.5 37 64 43 56 C50 46 49 36 45 27"/>
<path d="M10 33 L15 37 L19.5 45" stroke-width="4"/>
<path d="M14.5 33 L13.5 9.5 M13.5 9.5 Q17 12 20.5 17 L45 27 M20.5 29 L20.5 17 M27.5 31 L27.5 20 M34.5 32 L34.5 23 M41 31 L41 25.5" stroke-width="5"/>
<path d="M1 9.5 L8 9.5 M1 19 L8 19 M10 1.5 L12.5 6.5 M22.5 4 L20 8.5" stroke-width="3.6" stroke-linecap="butt"/>
</g>
</svg>
</body>
</html>
